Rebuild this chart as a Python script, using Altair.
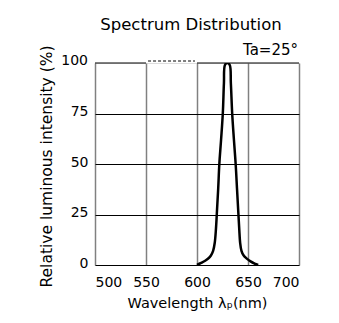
import altair as alt
import pandas as pd

wavelength = [600, 604, 608, 611, 613.5, 615.8, 617.4, 618.6, 619.6, 620.8, 621.9, 623.6, 625.3, 626.4, 627.4, 629.7, 632.1, 633.2, 634.5, 636.2, 637.9, 639.2, 640.4, 641.4, 642.3, 643.6, 645.6, 648.5, 652.5, 656.5, 660]
intensity = [0, 1.0, 2.1, 3.2, 4.6, 7, 11, 18, 27, 38, 50, 62, 75, 90, 99, 100, 99, 90, 75, 62, 50, 38, 27, 18, 11, 7, 4.8, 3.3, 1.8, 0.7, 0]

x_ticks = [500, 550, 600, 650, 700]
y_ticks = [0, 25, 50, 75, 100]

top_solid_start = [500, 600]
top_solid_end = [550, 700]
top_dashed = [550, 600]

FONT = "DejaVu Sans"

df = pd.DataFrame({"wl": wavelength, "val": intensity})

xscale = alt.Scale(domain=[500, 700], nice=False, zero=False)
yscale = alt.Scale(domain=[0, 100], nice=False)

xaxis = alt.Axis(values=x_ticks, grid=True, gridColor="#808080", gridWidth=1.5,
                 ticks=False, domain=False, labelFont=FONT, labelFontSize=14,
                 labelColor="black", labelPadding=10, title="Wavelength λₚ(nm)",
                 titleFont=FONT, titleFontSize=14.5, titleFontWeight="normal",
                 titleColor="black", titlePadding=7)
yaxis = alt.Axis(values=[0, 25, 50, 75], grid=True, gridColor="black", gridWidth=1,
                 ticks=False, domain=False, labelFont=FONT, labelFontSize=14,
                 labelColor="black", labelPadding=7, labelOffset=-2,
                 title="Relative luminous intensity (%)", titleFont=FONT,
                 titleFontSize=15.5, titleFontWeight="normal", titleColor="black",
                 titlePadding=16, titleY=103)

base = alt.Chart(df)

line = base.mark_line(color="black", strokeWidth=2.5, interpolate="catmull-rom", clip=True).encode(
    x=alt.X("wl:Q", scale=xscale, axis=xaxis),
    y=alt.Y("val:Q", scale=yscale, axis=yaxis),
)

label100 = alt.Chart(pd.DataFrame({"v": [100]})).mark_text(
    font=FONT, fontSize=14, align="right", baseline="middle", dx=-7, dy=-2, color="black"
).encode(x=alt.value(0), y=alt.Y("v:Q", scale=yscale), text=alt.Text("v:Q"))

top_df = pd.DataFrame({"a": top_solid_start, "b": top_solid_end, "y": [100, 100]})
top_solid = alt.Chart(top_df).mark_rule(color="black", strokeWidth=1).encode(
    x=alt.X("a:Q", scale=xscale), x2="b:Q", y=alt.Y("y:Q", scale=yscale))

dash_df = pd.DataFrame({"a": [top_dashed[0] + 2], "b": [top_dashed[1] - 2], "y": [100]})
top_dash = alt.Chart(dash_df).mark_rule(color="black", strokeWidth=1, strokeDash=[3, 2], yOffset=-2).encode(
    x=alt.X("a:Q", scale=xscale), x2="b:Q", y=alt.Y("y:Q", scale=yscale))

title = alt.Chart(pd.DataFrame({"t": ["Spectrum Distribution"]})).mark_text(
    font=FONT, fontSize=16.5, align="center", baseline="middle", color="black"
).encode(x=alt.value(96), y=alt.value(-38), text="t:N")

ta = alt.Chart(pd.DataFrame({"t": ["Ta=25°"]})).mark_text(
    font=FONT, fontSize=15, align="right", baseline="middle", color="black"
).encode(x=alt.value(203), y=alt.value(-13), text="t:N")

chart = alt.layer(top_solid, top_dash, line, label100, title, ta).properties(
    width=204, height=202,
    autosize=alt.AutoSizeParams(type="none"),
    padding={"left": 95, "top": 63, "right": 40, "bottom": 58},
).configure_view(stroke=None).configure(background="white")

chart.save("out.html", embed_options={"renderer": "svg", "actions": False})
